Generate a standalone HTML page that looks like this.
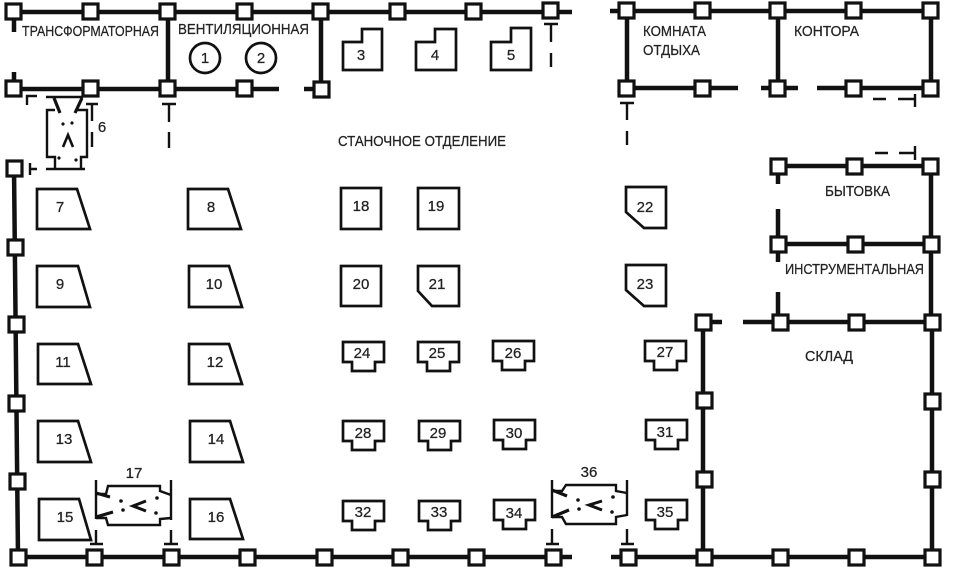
<!DOCTYPE html>
<html><head><meta charset="utf-8">
<style>
html,body{margin:0;padding:0;background:#fff}
svg{display:block}
text{font-family:"Liberation Sans",sans-serif;fill:#222;stroke:#222;stroke-width:.25}
.w{stroke:#111;stroke-width:4.5;fill:none}
.m{stroke:#111;stroke-width:2.7;fill:#fff;stroke-linejoin:miter}
.t{stroke:#111;stroke-width:2.4;fill:none}
.a{stroke:#111;stroke-width:3.2;fill:none}
.l{font-size:15px}
.n{font-size:15px;text-anchor:middle}
.s{stroke:#111;stroke-width:3.2;fill:#fff}
.d{fill:#111}
</style></head><body>
<svg width="955" height="571" viewBox="0 0 955 571" xmlns="http://www.w3.org/2000/svg">
<rect width="955" height="571" fill="#fff"/>
<!-- walls -->
<path class="w" d="M14 12H572M14 12V32M14 72V89H279M304 89H321M168 12V89M321 12V89"/>
<path class="w" d="M610 11H931M627 11V88H738M761 88H798M817 88H931M778 11V88M931 11V88"/>
<path class="w" d="M778 166H931M778 166V184M778 209V262M778 292V322M778 244H931M931 166V322M703 322H722M743 322H932M932 322V557M703 322V557"/>
<path class="w" d="M14 168L18 557H572M611 557H940"/>
<!-- pillars -->
<g class="s">
<rect x="6" y="4" width="15" height="15"/><rect x="83" y="4" width="15" height="15"/><rect x="160" y="4" width="15" height="15"/><rect x="237" y="4" width="15" height="15"/><rect x="313" y="4" width="15" height="15"/><rect x="390" y="4" width="15" height="15"/><rect x="466" y="4" width="15" height="15"/><rect x="543" y="3" width="15" height="15"/>
<rect x="619" y="3" width="15" height="15"/><rect x="695" y="3" width="15" height="15"/><rect x="770" y="3" width="15" height="15"/><rect x="846" y="3" width="15" height="15"/><rect x="923" y="3" width="15" height="15"/>
<rect x="6" y="81" width="15" height="15"/><rect x="83" y="81" width="15" height="15"/><rect x="160" y="81" width="15" height="15"/><rect x="237" y="81" width="15" height="15"/><rect x="314" y="82" width="15" height="15"/>
<rect x="619" y="81" width="15" height="15"/><rect x="695" y="81" width="15" height="15"/><rect x="770" y="81" width="15" height="15"/><rect x="846" y="81" width="15" height="15"/><rect x="923" y="81" width="15" height="15"/>
<rect x="771" y="159" width="15" height="15"/><rect x="847" y="159" width="15" height="15"/><rect x="923" y="159" width="15" height="15"/>
<rect x="771" y="237" width="15" height="15"/><rect x="848" y="237" width="15" height="15"/><rect x="924" y="237" width="15" height="15"/>
<rect x="696" y="315" width="15" height="15"/><rect x="773" y="315" width="15" height="15"/><rect x="849" y="315" width="15" height="15"/><rect x="925" y="315" width="15" height="15"/>
<rect x="925" y="394" width="15" height="15"/><rect x="925" y="472" width="15" height="15"/>
<rect x="697" y="393" width="15" height="15"/><rect x="697" y="472" width="15" height="15"/>
<rect x="7" y="161" width="15" height="15"/><rect x="8" y="240" width="15" height="15"/><rect x="9" y="317" width="15" height="15"/><rect x="9" y="396" width="15" height="15"/><rect x="10" y="474" width="15" height="15"/>
<rect x="11" y="550" width="15" height="15"/><rect x="87" y="550" width="15" height="15"/><rect x="164" y="550" width="15" height="15"/><rect x="240" y="550" width="15" height="15"/><rect x="317" y="550" width="15" height="15"/><rect x="393" y="550" width="15" height="15"/><rect x="469" y="550" width="15" height="15"/><rect x="546" y="550" width="15" height="15"/>
<rect x="621" y="550" width="15" height="15"/><rect x="697" y="550" width="15" height="15"/><rect x="773" y="550" width="15" height="15"/><rect x="849" y="550" width="15" height="15"/><rect x="925" y="550" width="15" height="15"/>
</g>
<!-- crane tracks / T marks -->
<path class="t" d="M27 105V96H37M30 163V175M30 169H37M86 104H98M92 104V121M92 132V147M162 104H176M169 104V122M169 132V148M544 24H558M551 24V42M551 53V67M620 103H634M627 103V120M627 131V145"/>
<path class="t" d="M96 530V544M90 544H103M171 530V544M164 544H178M552 529V544M546 544H559M627 529V544M621 544H634"/>
<path class="t" d="M873 99H886M898 99H915M915 94V107M875 153H888M899 153H915M915 146V160"/>
<!-- machines 1-2 -->
<circle class="m" cx="205" cy="58" r="15"/><circle class="m" cx="261" cy="58" r="15"/>
<!-- stepped -->
<path class="m" d="M343 42H362V29H382V70H343Z"/>
<path class="m" d="M416 42H435V29H456V70H416Z"/>
<path class="m" d="M491 42H511V28H531V70H491Z"/>
<!-- trapezoids -->
<path class="m" d="M37 189H77L90 229H37Z"/><path class="m" d="M188 189H228L241 229H188Z"/>
<path class="m" d="M37 266H78L90 307H37Z"/><path class="m" d="M189 266H229L242 307H189Z"/>
<path class="m" d="M38 344H78L91 384H38Z"/><path class="m" d="M189 344H229L242 384H189Z"/>
<path class="m" d="M38 421H78L91 462H38Z"/><path class="m" d="M190 421H230L243 462H190Z"/>
<path class="m" d="M39 499H79L91 540H39Z"/><path class="m" d="M190 499H230L243 539H190Z"/>
<!-- squares -->
<rect class="m" x="341" y="188" width="40" height="41"/><rect class="m" x="418" y="188" width="41" height="41"/><rect class="m" x="341" y="266" width="40" height="40"/>
<path class="m" d="M418 266H459V306H432L418 291Z"/>
<path class="m" d="M626 187H666V228H644L626 212Z"/>
<path class="m" d="M626 265H666V306H644L626 290Z"/>
<!-- T machines -->
<defs><path id="tm" class="m" d="M0 0H41V20H32V29H9V20H0Z"/></defs>
<use href="#tm" x="343" y="342"/><use href="#tm" x="418" y="342"/><use href="#tm" x="493" y="341"/><use href="#tm" x="645" y="341"/>
<use href="#tm" x="343" y="421"/><use href="#tm" x="419" y="421"/><use href="#tm" x="494" y="420"/><use href="#tm" x="646" y="420"/>
<use href="#tm" x="343" y="501"/><use href="#tm" x="419" y="501"/><use href="#tm" x="494" y="500"/><use href="#tm" x="646" y="500"/>
<!-- crane 6 -->
<path class="t" d="M46 97H83M46 169H85M55 110H47V157H55V169M77 110H87V157H81V169"/>
<path class="a" d="M54 98L60 113M82 98L75 113"/>
<g class="d"><circle cx="63" cy="124" r="1.6"/><circle cx="72" cy="123" r="1.6"/><circle cx="59" cy="158" r="1.6"/><circle cx="76" cy="160" r="1.6"/></g>
<path d="M63 147L68 135L73 147" fill="none" stroke="#111" stroke-width="2.6"/>
<!-- crane 17 -->
<path class="t" d="M96 480V519M171 480V520M96 518H106L108 525H160V519L171 518M96 494H106L108 486H160V491L171 495"/>
<path class="a" d="M96 493L110 497M96 517L113 512"/>
<g class="d"><circle cx="121" cy="501" r="1.8"/><circle cx="123" cy="510" r="1.8"/><circle cx="157" cy="498" r="1.8"/><circle cx="156" cy="513" r="1.8"/></g>
<path d="M146 501L133 506L146 511" fill="none" stroke="#111" stroke-width="3"/>
<!-- crane 36 -->
<path class="t" d="M552 480V518M627 480V516M552 517H562L566 524H616V517L627 515M552 491H562L566 485H616V491L627 493"/>
<path class="a" d="M552 490L567 496M552 517L569 510"/>
<g class="d"><circle cx="578" cy="500" r="1.8"/><circle cx="579" cy="509" r="1.8"/><circle cx="613" cy="497" r="1.8"/><circle cx="612" cy="512" r="1.8"/></g>
<path d="M602 501L589 505L602 510" fill="none" stroke="#111" stroke-width="3"/>
<!-- room labels -->
<text class="l" x="22" y="36" textLength="137" lengthAdjust="spacingAndGlyphs">ТРАНСФОРМАТОРНАЯ</text>
<text class="l" x="178" y="34" textLength="131" lengthAdjust="spacingAndGlyphs">ВЕНТИЛЯЦИОННАЯ</text>
<text class="l" x="338" y="146" textLength="168" lengthAdjust="spacingAndGlyphs">СТАНОЧНОЕ ОТДЕЛЕНИЕ</text>
<text class="l" x="643" y="36" textLength="63" lengthAdjust="spacingAndGlyphs">КОМНАТА</text>
<text class="l" x="643" y="55" textLength="57" lengthAdjust="spacingAndGlyphs">ОТДЫХА</text>
<text class="l" x="794" y="36" textLength="65" lengthAdjust="spacingAndGlyphs">КОНТОРА</text>
<text class="l" x="825" y="196" textLength="65" lengthAdjust="spacingAndGlyphs">БЫТОВКА</text>
<text class="l" x="785" y="274" textLength="139" lengthAdjust="spacingAndGlyphs">ИНСТРУМЕНТАЛЬНАЯ</text>
<text class="l" x="805" y="361" textLength="48" lengthAdjust="spacingAndGlyphs">СКЛАД</text>
<!-- numbers -->
<g>
<text class="n" x="205" y="63">1</text><text class="n" x="261" y="63">2</text>
<text class="n" x="361" y="60">3</text><text class="n" x="435" y="60">4</text><text class="n" x="511" y="60">5</text>
<text class="n" x="102" y="132">6</text>
<text class="n" x="60" y="212">7</text><text class="n" x="211" y="212">8</text>
<text class="n" x="60" y="289">9</text><text class="n" x="214" y="289">10</text>
<text class="n" x="63" y="367">11</text><text class="n" x="215" y="367">12</text>
<text class="n" x="64" y="444">13</text><text class="n" x="216" y="444">14</text>
<text class="n" x="65" y="522">15</text><text class="n" x="216" y="522">16</text>
<text class="n" x="134" y="478">17</text>
<text class="n" x="361" y="211">18</text><text class="n" x="436" y="211">19</text>
<text class="n" x="361" y="289">20</text><text class="n" x="437" y="289">21</text>
<text class="n" x="645" y="212">22</text><text class="n" x="645" y="289">23</text>
<text class="n" x="362" y="358">24</text><text class="n" x="437" y="358">25</text><text class="n" x="513" y="358">26</text><text class="n" x="665" y="357">27</text>
<text class="n" x="363" y="438">28</text><text class="n" x="438" y="438">29</text><text class="n" x="514" y="438">30</text><text class="n" x="665" y="437">31</text>
<text class="n" x="363" y="517">32</text><text class="n" x="439" y="517">33</text><text class="n" x="514" y="518">34</text><text class="n" x="665" y="517">35</text>
<text class="n" x="589" y="477">36</text>
</g>
</svg>
</body></html>
